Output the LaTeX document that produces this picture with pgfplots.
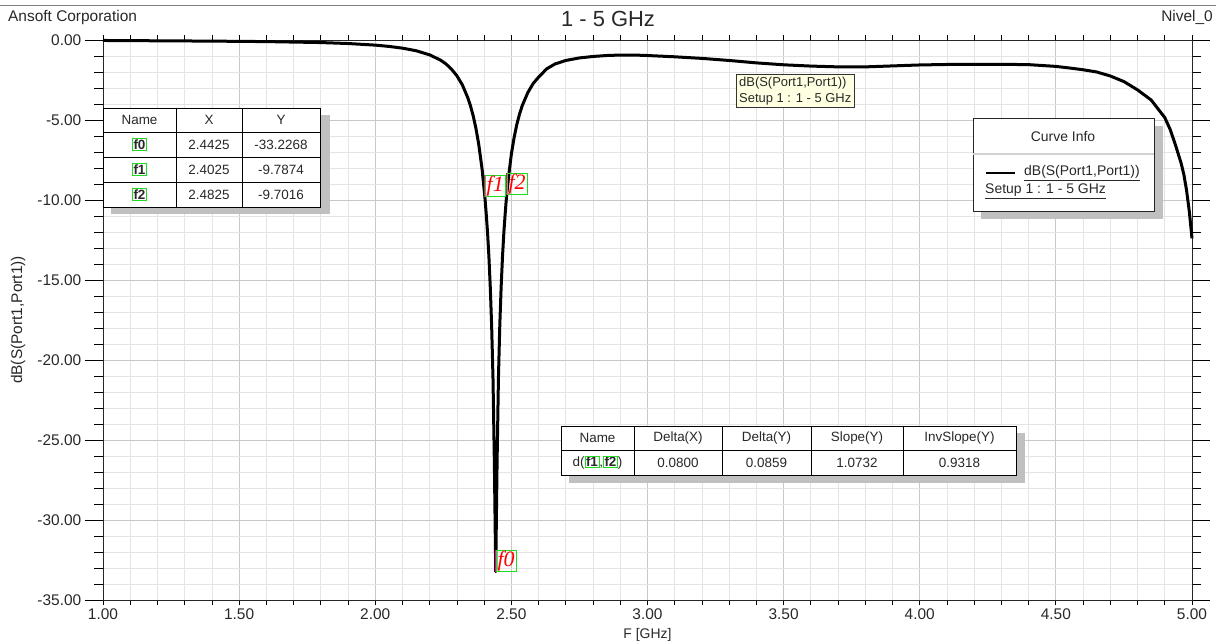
\documentclass[border=0pt]{standalone}
\usepackage{fontspec}
\setmainfont{Liberation Sans}
\newfontfamily\serifit{Liberation Serif}
\usepackage{pgfplots}
\pgfplotsset{compat=1.18}
\definecolor{mkgreen}{RGB}{30,220,30}
\definecolor{gridmaj}{RGB}{200,200,200}
\definecolor{gridmin}{RGB}{228,228,228}
\definecolor{tipyel}{RGB}{255,255,225}
\definecolor{shad}{RGB}{192,192,192}
\definecolor{txt}{RGB}{40,40,40}
\newcommand{\gbox}[1]{{\setlength\fboxsep{0.6bp}\setlength\fboxrule{0.8bp}\fcolorbox{mkgreen}{white}{\bfseries #1}}}
\tikzset{mklab/.style={draw=mkgreen, line width=0.8bp, anchor=south west, inner xsep=1.5bp, inner ysep=1bp, text=red, font=\serifit\itshape\fontsize{22}{22}\selectfont, text height=15bp, text depth=4bp}}
\begin{document}
\begin{tikzpicture}
\path[use as bounding box] (0,0) rectangle (1220bp,642bp);
\begin{axis}[
 at={(103bp,42bp)}, anchor=south west,
 scale only axis, width=1089bp, height=560bp,
 xmin=1, xmax=5, ymin=-35, ymax=0,
 clip=false,
 xtick={1,1.5,2,2.5,3,3.5,4,4.5,5},
 xticklabels={1.00,1.50,2.00,2.50,3.00,3.50,4.00,4.50,5.00},
 ytick={-35,-30,-25,-20,-15,-10,-5,0},
 yticklabels={-35.00,-30.00,-25.00,-20.00,-15.00,-10.00,-5.00,0.00},
 minor x tick num=4, minor y tick num=4,
 grid=both,
 major grid style={gridmaj, line width=0.8bp},
 minor grid style={gridmin, line width=0.8bp},
 tick align=outside,
 xtick style={black, line width=0.8bp, /pgfplots/major tick length=5bp, /pgfplots/minor tick length=5bp},
 ytick style={black, line width=0.8bp, /pgfplots/major tick length=18bp, /pgfplots/minor tick length=9bp},
 axis line style={black!85, line width=0.8bp},
 tick label style={font=\fontsize{15.5}{17}\selectfont, text=txt},
 yticklabel style={xshift=-14bp},
 xticklabel style={yshift=-1bp},
 xlabel={F [GHz]}, ylabel={dB(S(Port1,Port1))},
 xlabel style={font=\fontsize{14}{16}\selectfont, text=txt, at={(axis description cs:0.5,-0.0615)}, anchor=center},
 ylabel style={font=\fontsize{15.5}{17}\selectfont, text=txt, at={(axis description cs:-0.078,0.5)}, anchor=center},
]
\addplot[black, line width=3bp, line join=round] coordinates {
(1.00,-0.03) (1.10,-0.04) (1.20,-0.05) (1.30,-0.06) (1.40,-0.07) (1.50,-0.085)
(1.60,-0.10) (1.70,-0.13) (1.80,-0.16) (1.90,-0.22) (2.00,-0.32) (2.05,-0.40)
(2.10,-0.51) (2.15,-0.67) (2.20,-0.93) (2.24,-1.26) (2.26,-1.50) (2.28,-1.82)
(2.30,-2.24) (2.32,-2.81) (2.34,-3.61) (2.35,-4.13) (2.36,-4.76) (2.37,-5.54)
(2.38,-6.51) (2.3925,-8.08) (2.4025,-9.7874) (2.4075,-10.85) (2.4125,-12.05)
(2.4175,-13.55) (2.4225,-15.45) (2.4275,-17.85) (2.4325,-21.15) (2.4375,-26.4)
(2.4425,-33.2268) (2.4475,-26.4) (2.4525,-21.1) (2.4575,-17.8) (2.4625,-15.4)
(2.4675,-13.5) (2.4725,-12.0) (2.4775,-10.8) (2.4825,-9.7016) (2.4925,-8.15)
(2.50,-7.13) (2.51,-6.10) (2.52,-5.28) (2.53,-4.63) (2.54,-4.10) (2.56,-3.30)
(2.58,-2.72) (2.60,-2.32) (2.63,-1.80) (2.66,-1.50) (2.70,-1.28) (2.75,-1.12)
(2.80,-1.03) (2.85,-0.97) (2.90,-0.94) (2.95,-0.94) (3.00,-0.97) (3.10,-1.05)
(3.20,-1.15) (3.30,-1.28) (3.40,-1.43) (3.50,-1.55) (3.60,-1.63) (3.70,-1.68)
(3.80,-1.68) (3.90,-1.62) (4.00,-1.56) (4.10,-1.53) (4.20,-1.52) (4.30,-1.52)
(4.40,-1.54) (4.50,-1.65) (4.55,-1.75) (4.60,-1.86) (4.65,-2.00) (4.70,-2.25)
(4.75,-2.60) (4.80,-3.12) (4.85,-3.75) (4.90,-4.85) (4.92,-5.60) (4.94,-6.60)
(4.96,-7.70) (4.97,-8.40) (4.98,-9.40) (4.99,-10.70) (5.00,-12.40)
};
\node[mklab] (m1) at (axis cs:2.4025,-9.7874) {f1};
\node[mklab] (m2) at (axis cs:2.4825,-9.7016) {f2};
\node[mklab] (m0) at (axis cs:2.4425,-33.2268) {f0};
\draw[magenta, line width=1.3bp] (m1.south west) -- (m1.north west);
\draw[magenta, line width=1.3bp] (m2.south west) -- (m2.north west);
\draw[magenta, line width=1.3bp] (m0.south west) -- (m0.north west);
\end{axis}
\begin{scope}[x=1bp,y=-1bp,shift={(0,-642)}]
\draw[gray, line width=0.8bp] (0,5)--(1216,5);
\node[anchor=base west, font=\fontsize{15.5}{17}\selectfont, text=txt, inner sep=0] at (8,22) {Ansoft Corporation};
\node[anchor=base east, font=\fontsize{15.5}{17}\selectfont, text=txt, inner sep=0] at (1213,22) {Nivel\_0};
\node[anchor=base, font=\fontsize{22}{24}\selectfont, text=txt, inner sep=0] at (608,27) {1 - 5 GHz};
% marker table
\fill[shad] (111,115) rectangle (330,214);
\filldraw[fill=white, draw=black, line width=0.9bp] (103,108) rectangle (320,207);
\draw[black, line width=0.9bp] (176,108)--(176,207) (242,108)--(242,207) (103,132)--(320,132) (103,157)--(320,157) (103,182)--(320,182);
\begin{scope}[every node/.style={font=\fontsize{13.5}{15}\selectfont, text=txt, inner sep=0}]
\node at (139.5,120) {Name}; \node at (209,120) {X}; \node at (281,120) {Y};
\node at (139.5,144.5) {\gbox{f0}}; \node at (209,144.5) {2.4425}; \node at (281,144.5) {-33.2268};
\node at (139.5,169.5) {\gbox{f1}}; \node at (209,169.5) {2.4025}; \node at (281,169.5) {-9.7874};
\node at (139.5,194.5) {\gbox{f2}}; \node at (209,194.5) {2.4825}; \node at (281,194.5) {-9.7016};
\end{scope}
% delta table
\fill[shad] (569,433) rectangle (1025,483);
\filldraw[fill=white, draw=black, line width=0.9bp] (561,426) rectangle (1016,475);
\draw[black, line width=0.9bp] (634,426)--(634,475) (722,426)--(722,475) (811,426)--(811,475) (903,426)--(903,475) (561,450)--(1016,450);
\begin{scope}[every node/.style={font=\fontsize{13.5}{15}\selectfont, text=txt, inner sep=0}]
\node at (597.5,438) {Name}; \node at (678,438) {Delta(X)}; \node at (766.5,438) {Delta(Y)}; \node at (857,438) {Slope(Y)}; \node at (959.5,438) {InvSlope(Y)};
\node at (597.5,462.5) {d(\gbox{f1},\gbox{f2})}; \node at (678,462.5) {0.0800}; \node at (766.5,462.5) {0.0859}; \node at (857,462.5) {1.0732}; \node at (959.5,462.5) {0.9318};
\end{scope}
% curve info
\fill[shad] (981,126) rectangle (1163,219);
\filldraw[fill=white, draw=black!85, line width=0.9bp] (973,118) rectangle (1154,211);
\draw[gray!35, line width=1.2bp] (973,154)--(1154,154);
\begin{scope}[every node/.style={font=\fontsize{14}{16}\selectfont, text=txt, inner sep=0}]
\node at (1063,137) {Curve Info};
\node[anchor=west] at (1024,173) {\underline{dB(S(Port1,Port1))}};
\node[anchor=west] at (985,191) {\underline{Setup 1 : 1 - 5 GHz}};
\end{scope}
\draw[black, line width=2bp] (986,173)--(1015,173);
% tooltip
\filldraw[fill=tipyel, draw=black!80, line width=0.9bp] (736,74) rectangle (854,107);
\node[anchor=base west, font=\fontsize{13}{15}\selectfont, text=txt, inner sep=0] at (739,87) {dB(S(Port1,Port1))};
\node[anchor=base west, font=\fontsize{13}{15}\selectfont, text=txt, inner sep=0] at (739,103) {Setup 1 : 1 - 5 GHz};
\end{scope}
\end{tikzpicture}
\end{document}
